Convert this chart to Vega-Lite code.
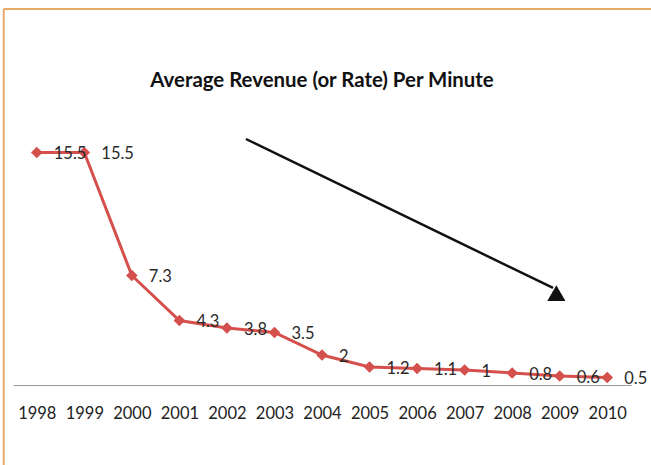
{
  "$schema": "https://vega.github.io/schema/vega-lite/v6.json",
  "width": 618,
  "height": 300,
  "autosize": "none",
  "padding": {"left": 13, "top": 85, "right": 20, "bottom": 80},
  "background": "white",
  "config": {"view": {"stroke": null}, "font": "Lato"},
  "datasets": {
    "rev": [
      {"year": 1998, "value": 15.5},
      {"year": 1999, "value": 15.5},
      {"year": 2000, "value": 7.3},
      {"year": 2001, "value": 4.3},
      {"year": 2002, "value": 3.8},
      {"year": 2003, "value": 3.5},
      {"year": 2004, "value": 2},
      {"year": 2005, "value": 1.2},
      {"year": 2006, "value": 1.1},
      {"year": 2007, "value": 1},
      {"year": 2008, "value": 0.8},
      {"year": 2009, "value": 0.6},
      {"year": 2010, "value": 0.5}
    ],
    "arrow": [
      {"year": 2002.4, "value": 16.4},
      {"year": 2008.86, "value": 6.47}
    ],
    "head": [
      {"year": 2008.93, "value": 6.13}
    ],
    "frame": [
      {"x": 1997.305, "x2": 2011.5, "y": 25.07, "y2": 25.07},
      {"x": 1997.305, "x2": 1997.305, "y": 25.07, "y2": -6}
    ],
    "title": [
      {"year": 2004, "value": 19.87, "label": "Average Revenue (or Rate) Per Minute"}
    ]
  },
  "layer": [
    {
      "data": {"name": "rev"},
      "mark": {"type": "line", "color": "#D5504C", "strokeWidth": 3, "clip": false},
      "encoding": {
        "x": {"field": "year", "type": "quantitative", "scale": {"domain": [1997.5, 2010.5], "nice": false, "zero": false},
          "axis": {"values": [1998,1999,2000,2001,2002,2003,2004,2005,2006,2007,2008,2009,2010], "format": "d", "title": null, "grid": false, "ticks": false, "domainColor": "#999999", "domainWidth": 1, "labelFont": "Lato", "labelFontSize": 16.5, "labelColor": "#222", "labelPadding": 20, "labelFlush": false}},
        "y": {"field": "value", "type": "quantitative", "scale": {"domain": [0, 20], "nice": false}, "axis": null}
      }
    },
    {
      "data": {"name": "rev"},
      "mark": {"type": "point", "shape": "diamond", "filled": true, "opacity": 1, "size": 135, "color": "#D5504C", "clip": false},
      "encoding": {
        "x": {"field": "year", "type": "quantitative"},
        "y": {"field": "value", "type": "quantitative"}
      }
    },
    {
      "data": {"name": "rev"},
      "mark": {"type": "text", "align": "left", "baseline": "middle", "dx": 17, "dy": 1.5, "font": "Lato", "fontSize": 16.5, "color": "#2a2a2a", "clip": false},
      "encoding": {
        "x": {"field": "year", "type": "quantitative"},
        "y": {"field": "value", "type": "quantitative"},
        "text": {"field": "value", "type": "quantitative"}
      }
    },
    {
      "data": {"name": "arrow"},
      "mark": {"type": "line", "color": "#111111", "strokeWidth": 2.5, "clip": false},
      "encoding": {
        "x": {"field": "year", "type": "quantitative"},
        "y": {"field": "value", "type": "quantitative"}
      }
    },
    {
      "data": {"name": "head"},
      "mark": {"type": "point", "shape": "triangle-up", "filled": true, "opacity": 1, "size": 330, "color": "#111111", "clip": false},
      "encoding": {
        "x": {"field": "year", "type": "quantitative"},
        "y": {"field": "value", "type": "quantitative"}
      }
    },
    {
      "data": {"name": "title"},
      "mark": {"type": "text", "align": "center", "baseline": "alphabetic", "font": "Lato", "fontSize": 20.4, "fontWeight": "bold", "color": "#111111", "clip": false},
      "encoding": {
        "x": {"field": "year", "type": "quantitative"},
        "y": {"field": "value", "type": "quantitative"},
        "text": {"field": "label", "type": "nominal"}
      }
    },
    {
      "data": {"name": "frame"},
      "mark": {"type": "rule", "color": "#E8A866", "strokeWidth": 2, "clip": false},
      "encoding": {
        "x": {"field": "x", "type": "quantitative"},
        "x2": {"field": "x2"},
        "y": {"field": "y", "type": "quantitative"},
        "y2": {"field": "y2"}
      }
    }
  ]
}
